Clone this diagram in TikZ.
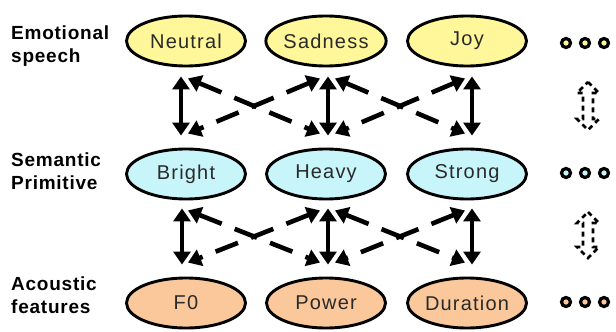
\documentclass[tikz,border=0pt]{standalone}
\usepackage{fontspec}
\setmainfont{Liberation Sans}
\usetikzlibrary{arrows.meta,calc,shapes.geometric}
\definecolor{yel}{HTML}{FFF799}
\definecolor{cya}{HTML}{C8F5FA}
\definecolor{ora}{HTML}{FAC89B}
\definecolor{txt}{HTML}{2A2A2A}
\begin{document}
\begin{tikzpicture}[x=1pt,y=-1pt,
  ell/.style={ellipse, draw=black, line width=2.9pt, minimum width=119pt, minimum height=50pt, inner sep=0pt,
    text=txt, font=\fontsize{20}{24}\selectfont\addfontfeatures{LetterSpace=6}},
  lab/.style={anchor=north west, inner sep=0pt, align=left, font=\fontsize{19}{23}\selectfont\bfseries\addfontfeatures{LetterSpace=4}},
  dot/.style={circle, draw=black, line width=3.2pt, minimum size=9pt, inner sep=0pt},
  vbar/.style={line width=4.6pt, {Triangle[width=17pt,length=13pt]}-{Triangle[width=17pt,length=13pt]}},
  dbar/.style={line width=4.6pt, dash pattern=on 24pt off 14pt, {Triangle[width=17pt,length=13pt]}-{Triangle[width=17pt,length=13pt]}},
  sidearrow/.style={line width=2.6pt, dash pattern=on 5pt off 4pt}
]
\useasboundingbox (0,0) rectangle (616,332);

% labels
\node[lab] (labE) at (11,26) {Emotional\\speech};
\node[lab] (labS) at (11,153) {Semantic\\Primitive};
\node[lab] (labA) at (11,277) {Acoustic\\features};

% ellipses
\node[ell, fill=yel] (Neutral) at (186,41) {Neutral};
\node[ell, fill=yel] (Sadness) at (326,41) {Sadness};
\node[ell, fill=yel] (Joy) at (467,41) {Joy};
\node[ell, fill=cya] (Bright) at (186,174) {Bright};
\node[ell, fill=cya] (Heavy) at (326,174) {Heavy};
\node[ell, fill=cya] (Strong) at (467,174) {Strong};
\node[ell, fill=ora] (F0) at (186,303) {F0};
\node[ell, fill=ora] (Power) at (326,303) {Power};
\node[ell, fill=ora] (Duration) at (467,303) {Duration};

% dots
\node[dot, fill=yel] (d1a) at (566,43) {};
\node[dot, fill=yel] (d1b) at (585,43) {};
\node[dot, fill=yel] (d1c) at (604,43) {};
\node[dot, fill=cya] (d2a) at (566,173) {};
\node[dot, fill=cya] (d2b) at (585,173) {};
\node[dot, fill=cya] (d2c) at (604,173) {};
\node[dot, fill=ora] (d3a) at (566,302) {};
\node[dot, fill=ora] (d3b) at (585,302) {};
\node[dot, fill=ora] (d3c) at (604,302) {};

% vertical solid arrows, upper band
\draw[vbar] ($(Neutral.south)+(-5,9)$) -- ($(Bright.north)+(-5,-12)$);
\draw[vbar] ($(Sadness.south)+(2,9)$) -- ($(Heavy.north)+(2,-12)$);
\draw[vbar] ($(Joy.south)+(5,9)$) -- ($(Strong.north)+(5,-12)$);
% vertical solid arrows, lower band
\draw[vbar] ($(Bright.south)+(-4,8)$) -- ($(F0.north)+(-4,-12)$);
\draw[vbar] ($(Heavy.south)+(2,8)$) -- ($(Power.north)+(2,-12)$);
\draw[vbar] ($(Strong.south)+(5,8)$) -- ($(Duration.north)+(5,-12)$);

% dashed crossing arrows, upper band (all drawn from top to bottom)
\draw[dbar] ($(Neutral.south)+(2,11)$) -- ($(Heavy.north)+(-6,-14)$);
\draw[dbar] ($(Sadness.south)+(-6,11)$) -- ($(Bright.north)+(2,-14)$);
\draw[dbar] ($(Sadness.south)+(9,11)$) -- ($(Strong.north)+(-2,-14)$);
\draw[dbar] ($(Joy.south)+(-2,11)$) -- ($(Heavy.north)+(9,-14)$);
% dashed crossing arrows, lower band
\draw[dbar] ($(Bright.south)+(2,10)$) -- ($(Power.north)+(-6,-14)$);
\draw[dbar] ($(Heavy.south)+(-6,10)$) -- ($(F0.north)+(2,-14)$);
\draw[dbar] ($(Heavy.south)+(9,10)$) -- ($(Duration.north)+(-2,-14)$);
\draw[dbar] ($(Strong.south)+(-2,10)$) -- ($(Power.north)+(9,-14)$);

% dashed outline double arrows at the right
\draw[sidearrow] (588,82) -- (599,93) -- (593,93) -- (593,119) -- (599,119) -- (588,130)
  -- (577,119) -- (583,119) -- (583,93) -- (577,93) -- cycle;
\draw[sidearrow] (588,212) -- (599,223) -- (593,223) -- (593,247) -- (599,247) -- (588,258)
  -- (577,247) -- (583,247) -- (583,223) -- (577,223) -- cycle;
\end{tikzpicture}
\end{document}
